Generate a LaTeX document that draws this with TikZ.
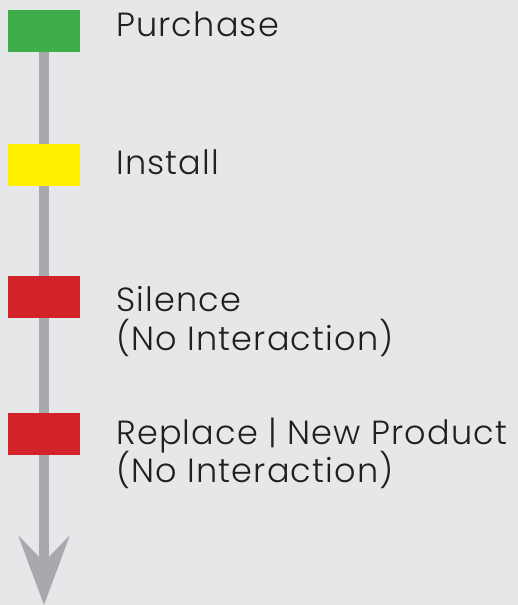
\documentclass[tikz,border=0pt]{standalone}
\usepackage{fontspec}
\setmainfont{Poppins Light}[LetterSpace=3.5]
\usetikzlibrary{arrows.meta}
\definecolor{bgc}{HTML}{E6E7E8}
\definecolor{gre}{HTML}{3FAE4A}
\definecolor{yel}{HTML}{FFF200}
\definecolor{rd}{HTML}{D2232A}
\definecolor{gr}{HTML}{A7A9AC}
\definecolor{txt}{HTML}{231F20}
\tikzset{
  stage/.style={minimum width=72pt, minimum height=42pt, inner sep=0pt, draw=none},
  lbl/.style={anchor=base west, inner sep=0pt, text=txt, font=\fontsize{33.5}{38}\selectfont},
  shaft/.style={draw=gr, line width=10pt},
}
\begin{document}
\begin{tikzpicture}[x=1pt,y=-1pt]
\fill[bgc] (0,0) rectangle (518,605);
\useasboundingbox (0,0) rectangle (518,605);
\node[stage, fill=gre] (p) at (44,31) {};
\node[stage, fill=yel] (i) at (44,165) {};
\node[stage, fill=rd] (s) at (44,297) {};
\node[stage, fill=rd] (r) at (44,434) {};
\coordinate (end) at (44,605);
\draw[shaft] (p.south) -- (i.north);
\draw[shaft] (i.south) -- (s.north);
\draw[shaft] (s.south) -- (r.north);
\draw[shaft, -{Stealth[length=70pt, width=52pt, inset=27pt, line width=0pt]}] (r.south) -- (end);
\node[lbl] (tp) at (116,36) {Purchase};
\node[lbl] (ti) at (116,174) {Install};
\node[lbl] (ts1) at (116,311) {Silence};
\node[lbl] (ts2) at (116,350) {(No Interaction)};
\node[lbl] (tr1) at (116,444) {Replace | New Product};
\node[lbl] (tr2) at (116,482) {(No Interaction)};
\end{tikzpicture}
\end{document}
